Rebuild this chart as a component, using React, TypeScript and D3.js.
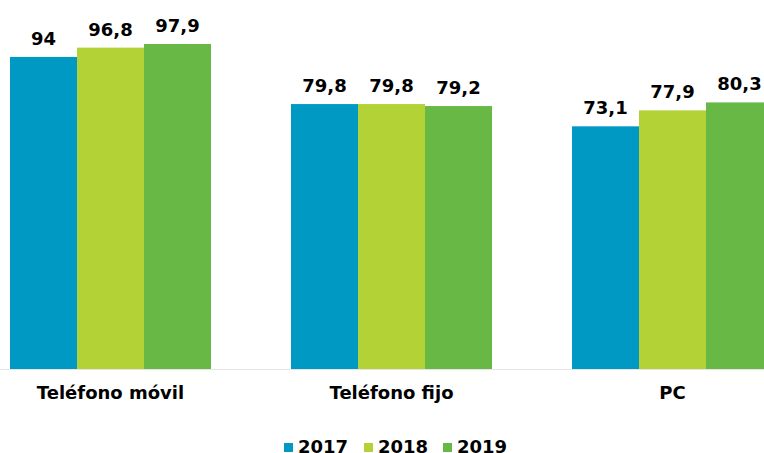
import React from "react";
import * as d3 from "d3";

const categories = ["Teléfono móvil", "Teléfono fijo", "PC"];
const years = ["2017", "2018", "2019"];
const v2017 = [94, 79.8, 73.1];
const v2018 = [96.8, 79.8, 77.9];
const v2019 = [97.9, 79.2, 80.3];
const colors = ["#0099C4", "#B2D235", "#68B846"];

const W = 764;
const H = 453;
const FONT = "'DejaVu Sans', Verdana, sans-serif";

export default function App() {
  const series = [v2017, v2018, v2019];
  const x0 = d3.scaleBand().domain(categories).range([10, 773]).paddingInner(80 / 281).paddingOuter(0);
  const x1 = d3.scaleBand().domain(years).range([0, x0.bandwidth()]);
  const y = d3.scaleLinear().domain([0, 100]).range([369, 37]);
  const fmt = (v: number) => String(v).replace(".", ",");

  return (
    <svg width={W} height={H} style={{ position: "absolute", left: 0, top: 0, display: "block" }}>
      <rect width={W} height={H} fill="#fff" />
      {categories.map((c, i) => (
        <g key={c} transform={`translate(${x0(c)},0)`}>
          {years.map((yr, j) => {
            const v = series[j][i];
            const bx = x1(yr)!;
            return (
              <g key={yr}>
                <rect x={bx} y={y(v)} width={x1.bandwidth()} height={y(0) - y(v)} fill={colors[j]} />
                <text
                  x={bx + x1.bandwidth() / 2}
                  y={y(v) - 12}
                  textAnchor="middle"
                  fontFamily={FONT}
                  fontWeight="bold"
                  fontSize={18}
                  fill="#000"
                >
                  {fmt(v)}
                </text>
              </g>
            );
          })}
          <text
            x={x0.bandwidth() / 2}
            y={399}
            textAnchor="middle"
            fontFamily={FONT}
            fontWeight="bold"
            fontSize={18}
            fill="#000"
          >
            {c}
          </text>
        </g>
      ))}
      <line x1={0} x2={W} y1={369.5} y2={369.5} stroke="#e6e6e6" strokeWidth={1} />
      {years.map((yr, j) => {
        const lx = [284, 364, 443][j];
        return (
          <g key={yr}>
            <rect x={lx} y={443} width={9} height={9} fill={colors[j]} />
            <text x={lx + 14} y={453} fontFamily={FONT} fontWeight="bold" fontSize={18} fill="#000">
              {yr}
            </text>
          </g>
        );
      })}
    </svg>
  );
}
